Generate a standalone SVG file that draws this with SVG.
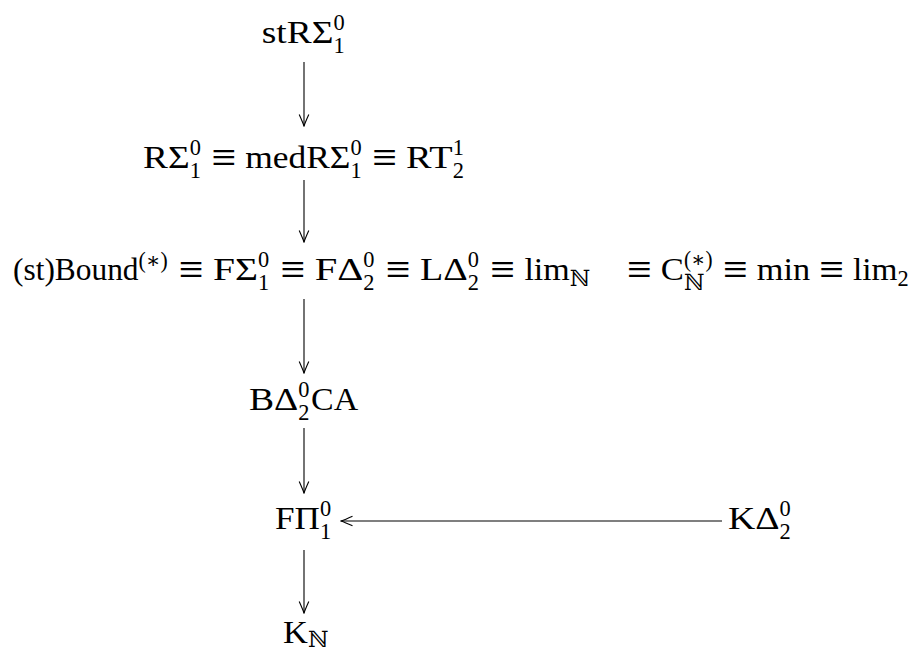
<svg xmlns="http://www.w3.org/2000/svg" width="915" height="651" viewBox="0 0 915 651">
<style>
text{font-family:"Liberation Serif","DejaVu Serif",serif;font-size:32px;fill:#000}
.s{font-size:22.4px}
.eq{text-anchor:middle;font-family:"Liberation Serif",serif;font-size:44px}
.c{stroke:#000;stroke-width:1.1;fill:none}
</style>
<defs>
<marker id="to" viewBox="0 0 14 14" refX="13" refY="7" markerWidth="14" markerHeight="14" markerUnits="userSpaceOnUse" orient="auto">
<path d="M1.5,2.2 Q9,5.6 13,7 Q9,8.4 1.5,11.8" stroke="#000" stroke-width="1.1" fill="none"/>
</marker>
</defs>
<rect width="915" height="651" fill="#fff"/>
<g id="connectors">
<line class="c" x1="304" y1="62" x2="304" y2="126" marker-end="url(#to)"/>
<line class="c" x1="304" y1="180" x2="304" y2="242" marker-end="url(#to)"/>
<line class="c" x1="304" y1="299" x2="304" y2="373" marker-end="url(#to)"/>
<line class="c" x1="304" y1="428" x2="304" y2="493" marker-end="url(#to)"/>
<line class="c" x1="304" y1="550" x2="304" y2="613" marker-end="url(#to)"/>
<line class="c" x1="722" y1="521" x2="341" y2="521" marker-end="url(#to)"/>
</g>
<g id="stRS">
<text x="261.8" y="43" textLength="71.7" lengthAdjust="spacingAndGlyphs">stRΣ</text>
<text class="s" x="333.5" y="30">0</text>
<text class="s" x="333.5" y="53">1</text>
</g>
<g id="RS">
<text x="143" y="168" textLength="46.6" lengthAdjust="spacingAndGlyphs">RΣ</text>
<text class="s" x="189.7" y="155">0</text>
<text class="s" x="189.7" y="178">1</text>
<text class="eq" x="223.8" y="172">≡</text>
<text x="245.2" y="168" textLength="105.3" lengthAdjust="spacingAndGlyphs">medRΣ</text>
<text class="s" x="350.5" y="155">0</text>
<text class="s" x="350.5" y="178">1</text>
<text class="eq" x="384.6" y="172">≡</text>
<text x="406" y="168" textLength="46.6" lengthAdjust="spacingAndGlyphs">RT</text>
<text class="s" x="452.7" y="155">1</text>
<text class="s" x="452.7" y="178">2</text>
</g>
<g id="Bound">
<text x="13" y="280" textLength="125.5" lengthAdjust="spacingAndGlyphs">(st)Bound</text>
<text class="s" x="138.5" y="268" textLength="29.3" lengthAdjust="spacingAndGlyphs">(∗)</text>
<text class="eq" x="191.2" y="284">≡</text>
<text x="213" y="280" textLength="45" lengthAdjust="spacingAndGlyphs">FΣ</text>
<text class="s" x="258" y="267">0</text>
<text class="s" x="258" y="290">1</text>
<text class="eq" x="292.9" y="284">≡</text>
<text x="314.7" y="280" textLength="48.6" lengthAdjust="spacingAndGlyphs">FΔ</text>
<text class="s" x="363.3" y="267">0</text>
<text class="s" x="363.3" y="290">2</text>
<text class="eq" x="398.2" y="284">≡</text>
<text x="420" y="280" textLength="47.7" lengthAdjust="spacingAndGlyphs">LΔ</text>
<text class="s" x="467.7" y="267">0</text>
<text class="s" x="467.7" y="290">2</text>
<text class="eq" x="502.6" y="284">≡</text>
<text x="524.4" y="280" textLength="45.4" lengthAdjust="spacingAndGlyphs">lim</text>
<text class="s" x="569.8" y="286">ℕ</text>
</g>
<g id="C">
<text class="eq" x="639.5" y="284">≡</text>
<text x="660.8" y="280" textLength="23.1" lengthAdjust="spacingAndGlyphs">C</text>
<text class="s" x="683.9" y="267" textLength="28.6" lengthAdjust="spacingAndGlyphs">(∗)</text>
<text class="s" x="683.9" y="290">ℕ</text>
<text class="eq" x="735.5" y="284">≡</text>
<text x="756.8" y="280" textLength="53.4" lengthAdjust="spacingAndGlyphs">min</text>
<text class="eq" x="831.6" y="284">≡</text>
<text x="852.9" y="280" textLength="44.5" lengthAdjust="spacingAndGlyphs">lim</text>
<text class="s" x="897.4" y="286">2</text>
</g>
<g id="BDCA">
<text x="249" y="410" textLength="49.3" lengthAdjust="spacingAndGlyphs">BΔ</text>
<text class="s" x="298.3" y="397">0</text>
<text class="s" x="298.3" y="420">2</text>
<text x="311.1" y="410" textLength="47.1" lengthAdjust="spacingAndGlyphs">CA</text>
</g>
<g id="FP">
<text x="275" y="529" textLength="44.9" lengthAdjust="spacingAndGlyphs">FΠ</text>
<text class="s" x="319.9" y="516">0</text>
<text class="s" x="319.9" y="539">1</text>
</g>
<g id="KD">
<text x="728" y="529" textLength="51.6" lengthAdjust="spacingAndGlyphs">KΔ</text>
<text class="s" x="779.6" y="516">0</text>
<text class="s" x="779.6" y="539">2</text>
</g>
<g id="KN">
<text x="283" y="643" textLength="24.9" lengthAdjust="spacingAndGlyphs">K</text>
<text class="s" x="307.9" y="647">ℕ</text>
</g>
</svg>
